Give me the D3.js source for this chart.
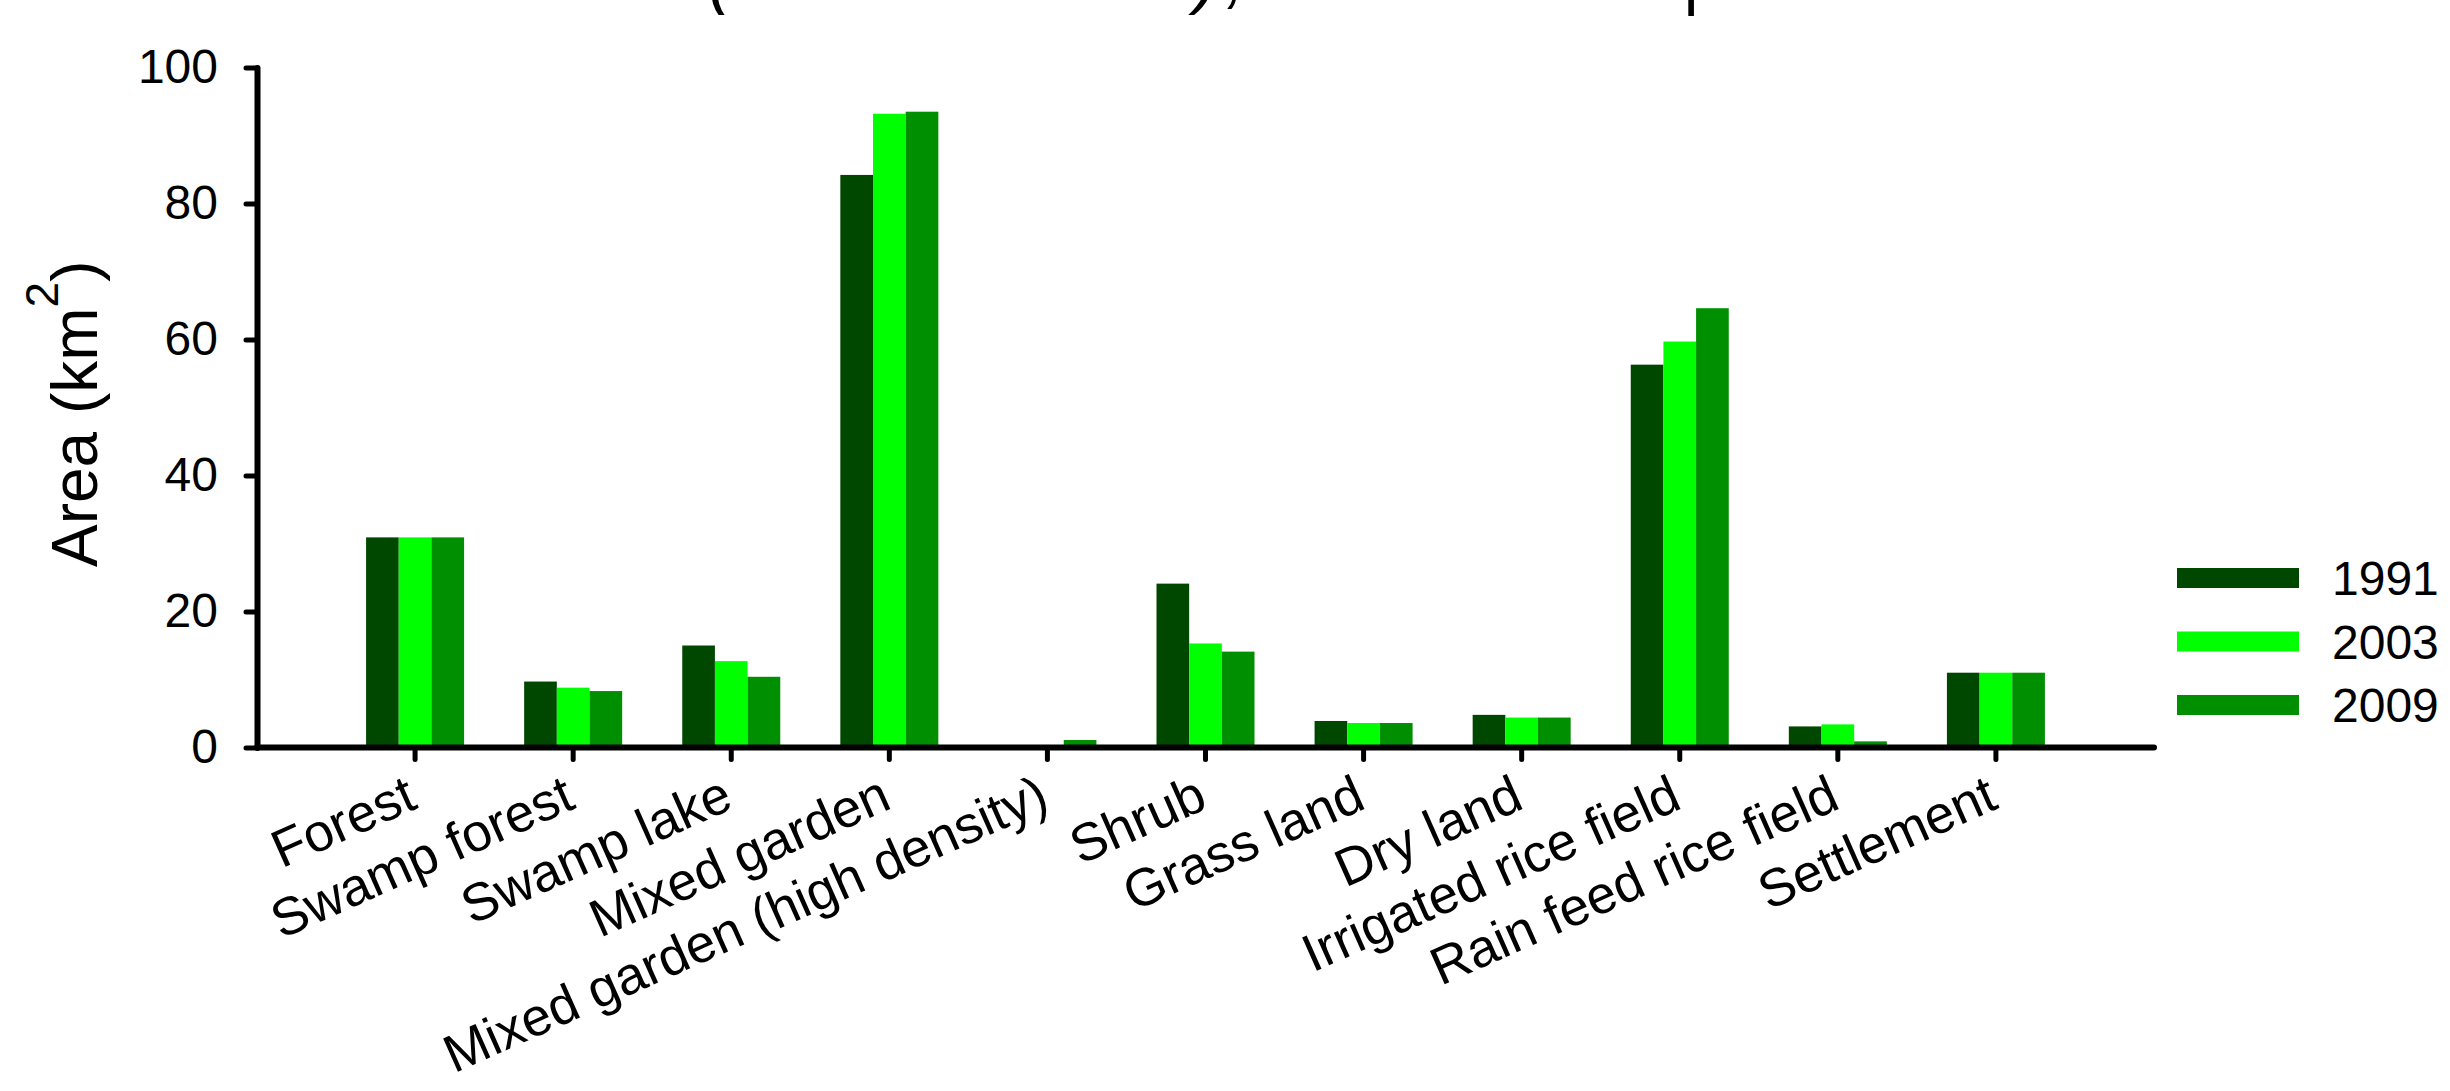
<!DOCTYPE html>
<html>
<head>
<meta charset="utf-8">
<script src="https://cdn.jsdelivr.net/npm/d3@7"></script>
<style>
  html, body { margin: 0; padding: 0; background: #ffffff; }
  svg { display: block; font-family: "Liberation Sans", Arial, Helvetica, sans-serif; }
</style>
</head>
<body>
<svg id="chart" width="2450" height="1091"></svg>
<script>
// Land-use area per class, three survey years (km²)
const categories = [
  "Forest", "Swamp forest", "Swamp lake", "Mixed garden",
  "Mixed garden (high density)", "Shrub", "Grass land", "Dry land",
  "Irrigated rice field", "Rain feed rice field", "Settlement"
];
const years = ["1991", "2003", "2009"];
const area1991 = [30.9, 9.7, 15.0, 84.2, 0.0, 24.1, 3.9, 4.8, 56.3, 3.1, 11.0];
const area2003 = [30.9, 8.8, 12.7, 93.2, 0.0, 15.3, 3.6, 4.4, 59.7, 3.4, 11.0];
const area2009 = [30.9, 8.3, 10.4, 93.5, 1.1, 14.1, 3.6, 4.4, 64.6, 0.9, 11.0];
const yTicks = [0, 20, 40, 60, 80, 100];
const yearColors = ["#004800", "#00ff00", "#008f00"];

const seriesValues = [area1991, area2003, area2009];

const svg = d3.select("#chart");

const plotLeft = 257, plotRight = 2154, plotTop = 67.5, plotBottom = 747.5;

const x = d3.scaleBand()
  .domain(categories)
  .range([plotLeft, plotRight])
  .paddingInner(0.38)
  .paddingOuter(0.69);

const xSub = d3.scaleBand()
  .domain(years)
  .range([0, x.bandwidth()])
  .padding(0);

const y = d3.scaleLinear().domain([0, 100]).range([plotBottom, plotTop]);

const color = d3.scaleOrdinal().domain(years).range(yearColors);

// Bars
const rows = categories.map((c, i) => ({
  category: c,
  values: years.map((yr, j) => ({ year: yr, value: seriesValues[j][i] }))
}));

const groups = svg.append("g").attr("class", "bars")
  .selectAll("g")
  .data(rows)
  .join("g")
  .attr("transform", d => `translate(${x(d.category)},0)`);

groups.selectAll("rect")
  .data(d => d.values.filter(v => v.value > 0))
  .join("rect")
  .attr("x", d => xSub(d.year))
  .attr("width", xSub.bandwidth())
  .attr("y", d => y(d.value))
  .attr("height", d => y(0) - y(d.value))
  .attr("fill", d => color(d.year));

// Y axis
const yAxis = svg.append("g")
  .attr("class", "y-axis")
  .attr("transform", `translate(${plotLeft},0)`)
  .call(d3.axisLeft(y).tickValues(yTicks).tickSize(11).tickPadding(28).tickSizeOuter(0));

// X axis
const xAxis = svg.append("g")
  .attr("class", "x-axis")
  .attr("transform", `translate(0,${plotBottom})`)
  .call(d3.axisBottom(x).tickSize(12).tickSizeOuter(0));

xAxis.select(".domain").attr("d", `M${plotLeft},0H${plotRight}`);

[yAxis, xAxis].forEach(ax => {
  ax.select(".domain")
    .attr("stroke", "#000")
    .attr("stroke-width", 6)
    .attr("stroke-linecap", "round");
  ax.selectAll(".tick line")
    .attr("stroke", "#000")
    .attr("stroke-width", 5)
    .attr("stroke-linecap", "round");
});

yAxis.selectAll(".tick text")
  .attr("font-size", 48)
  .attr("fill", "#000")
  .attr("font-family", "Liberation Sans, Arial, sans-serif");

xAxis.selectAll(".tick text")
  .attr("font-size", 53)
  .attr("fill", "#000")
  .attr("font-family", "Liberation Sans, Arial, sans-serif")
  .attr("text-anchor", "end")
  .attr("x", 4)
  .attr("y", 60)
  .attr("dy", 0)
  .attr("transform", "rotate(-24 4 60)");

// Y axis title with superscript
const yTitle = svg.append("text")
  .attr("transform", "translate(97,567) rotate(-90)")
  .attr("font-size", 64)
  .attr("fill", "#000")
  .attr("text-anchor", "start");
yTitle.append("tspan").text("Area (km");
yTitle.append("tspan").attr("font-size", 46).attr("dy", -39).text("2");
yTitle.append("tspan").attr("dy", 39).text(")");

// Legend
const legend = svg.append("g").attr("class", "legend");
const legendRows = legend.selectAll("g")
  .data(years)
  .join("g")
  .attr("transform", (d, i) => `translate(2177,${578 + i * 63.5})`);
legendRows.append("rect")
  .attr("x", 0).attr("y", -10)
  .attr("width", 122).attr("height", 20)
  .attr("fill", d => color(d));
legendRows.append("text")
  .attr("x", 155).attr("y", 0).attr("dy", "0.36em")
  .attr("font-size", 48)
  .attr("fill", "#000")
  .text(d => d);

// Title line above the plot (only its lower edge falls inside the frame)
const titleBits = [
  { t: "(", x: 708 },
  { t: ")", x: 1195 },
  { t: ",", x: 1226 },
  { t: "|", x: 1681 }
];
svg.append("g").attr("class", "title")
  .selectAll("text")
  .data(titleBits)
  .join("text")
  .attr("x", d => d.x)
  .attr("y", 0)
  .attr("font-size", 70)
  .attr("font-style", "italic")
  .attr("fill", "#000")
  .text(d => d.t);
</script>
</body>
</html>
